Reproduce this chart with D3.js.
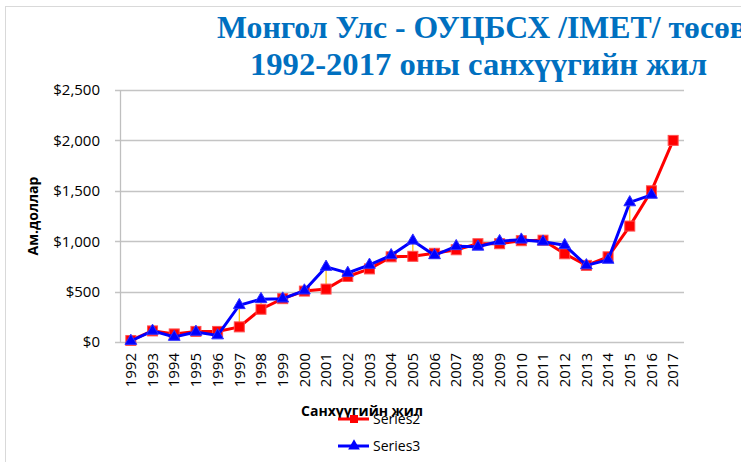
<!DOCTYPE html>
<html>
<head>
<meta charset="utf-8">
<script src="https://cdn.jsdelivr.net/npm/d3@7"></script>
<style>
  body { margin: 0; background: #fff; }
  svg { display: block; }
</style>
</head>
<body>
<script>
// data
const years = ['1992','1993','1994','1995','1996','1997','1998','1999','2000','2001','2002','2003','2004',
               '2005','2006','2007','2008','2009','2010','2011','2012','2013','2014','2015','2016','2017'];
const series2 = [15, 110, 80, 105, 105, 150, 325, 430, 505, 525, 650, 725, 845,
                 850, 880, 915, 975, 975, 1005, 1010, 875, 760, 845, 1150, 1500, 2000];
const series3 = [10, 110, 50, 100, 65, 365, 425, 430, 510, 745, 685, 765, 860,
                 1005, 860, 950, 945, 1000, 1015, 995, 960, 760, 815, 1385, 1460, null];
const yTicks = [0, 500, 1000, 1500, 2000, 2500];
const titleLines = ['Монгол Улс - ОУЦБСХ /IMET/ төсөв', '1992-2017 оны санхүүгийн жил'];

const W = 741, H = 462;
const plot = { left: 120, right: 684, top: 90, bottom: 342 };

const svg = d3.select('body').append('svg')
    .attr('width', W)
    .attr('height', H);

// chart frame
svg.append('rect')
    .attr('x', 5.5).attr('y', 6.5)
    .attr('width', 800).attr('height', 600)
    .attr('fill', '#fff')
    .attr('stroke', '#d9d9d9');

// TITLE
const titleFmt = [
    { x: 217, y: 38, len: 530 },
    { x: 250, y: 75, len: 457 }
];
svg.selectAll('text.title')
    .data(titleLines)
    .enter()
    .append('text')
    .attr('class', 'title')
    .attr('x', (d, i) => titleFmt[i].x)
    .attr('y', (d, i) => titleFmt[i].y)
    .attr('textLength', (d, i) => titleFmt[i].len)
    .attr('lengthAdjust', 'spacingAndGlyphs')
    .attr('font-family', '"Liberation Serif", "Times New Roman", serif')
    .attr('font-weight', 'bold')
    .attr('font-size', '31px')
    .attr('fill', '#0070c0')
    .text(d => d);

// SCALES
const x = d3.scaleBand()
    .domain(years)
    .range([plot.left, plot.right]);

const y = d3.scaleLinear()
    .domain([0, 2500])
    .range([plot.bottom, plot.top]);

const cx = d => x(d) + x.bandwidth() / 2;

// GRID
svg.append('g')
    .selectAll('line')
    .data(yTicks)
    .enter()
    .append('line')
    .attr('x1', plot.left - 5)
    .attr('x2', plot.right)
    .attr('y1', d => Math.round(y(d)) + 0.5)
    .attr('y2', d => Math.round(y(d)) + 0.5)
    .attr('stroke', '#c4c4c4')
    .attr('stroke-width', 1.3);

// AXES
const yAxis = d3.axisLeft(y)
    .tickValues(yTicks)
    .tickSize(0)
    .tickPadding(20)
    .tickFormat(d => '$' + d3.format(',')(d));

const gy = svg.append('g')
    .attr('transform', 'translate(' + plot.left + ',0)')
    .call(yAxis);
gy.select('.domain').attr('stroke', '#bfbfbf').attr('stroke-width', 1.3);
gy.selectAll('text')
    .attr('font-family', '"Open Sans", sans-serif')
    .attr('font-size', '15px')
    .attr('fill', '#000');

const xAxis = d3.axisBottom(x).tickSize(0).tickPadding(0);
const gx = svg.append('g')
    .attr('transform', 'translate(0,' + plot.bottom + ')')
    .call(xAxis);
gx.select('.domain').remove();
gx.selectAll('text')
    .attr('font-family', '"Open Sans", sans-serif')
    .attr('font-size', '15px')
    .attr('fill', '#000')
    .style('text-anchor', 'end')
    .attr('dy', '0.35em')
    .attr('dx', '-11px')
    .attr('y', 0)
    .attr('transform', 'rotate(-90)');

// AXIS TITLES
svg.append('text')
    .attr('transform', 'translate(38,216) rotate(-90)')
    .attr('text-anchor', 'middle')
    .attr('font-family', '"Open Sans", sans-serif')
    .attr('font-weight', 'bold')
    .attr('font-size', '14px')
    .text('Ам.доллар');

svg.append('text')
    .attr('x', 362)
    .attr('y', 416)
    .attr('text-anchor', 'middle')
    .attr('font-family', '"Open Sans", sans-serif')
    .attr('font-weight', 'bold')
    .attr('font-size', '14px')
    .text('Санхүүгийн жил');

// HIGH-LOW LINES
const pairs = years.map((yr, i) => ({ yr, a: series2[i], b: series3[i] }))
    .filter(d => d.a != null && d.b != null);
svg.append('g')
    .selectAll('line')
    .data(pairs)
    .enter()
    .append('line')
    .attr('x1', d => cx(d.yr))
    .attr('x2', d => cx(d.yr))
    .attr('y1', d => y(d.a))
    .attr('y2', d => y(d.b))
    .attr('stroke', '#ffc000')
    .attr('stroke-width', 1.2);

// SERIES
const line = d3.line()
    .defined(d => d.v != null)
    .x(d => cx(d.yr))
    .y(d => y(d.v));

const s2 = years.map((yr, i) => ({ yr, v: series2[i] }));
const s3 = years.map((yr, i) => ({ yr, v: series3[i] })).filter(d => d.v != null);

svg.append('path')
    .datum(s2)
    .attr('d', line)
    .attr('fill', 'none')
    .attr('stroke', '#ff0000')
    .attr('stroke-width', 3);

svg.append('g')
    .selectAll('rect')
    .data(s2)
    .enter()
    .append('rect')
    .attr('x', d => cx(d.yr) - 5)
    .attr('y', d => y(d.v) - 5)
    .attr('width', 10)
    .attr('height', 10)
    .attr('fill', '#ff0000')
    .attr('stroke', '#ff5050')
    .attr('stroke-width', 1);

svg.append('path')
    .datum(s3)
    .attr('d', line)
    .attr('fill', 'none')
    .attr('stroke', '#0000ff')
    .attr('stroke-width', 3);

const tri = d3.symbol().type(d3.symbolTriangle).size(60);
svg.append('g')
    .selectAll('path')
    .data(s3)
    .enter()
    .append('path')
    .attr('d', tri)
    .attr('transform', d => 'translate(' + cx(d.yr) + ',' + y(d.v) + ')')
    .attr('fill', '#0000ff')
    .attr('stroke', '#3030ff')
    .attr('stroke-width', 1);

// LEGEND
const legend = [
    { name: 'Series2', color: '#ff0000', shape: 'square', y: 419 },
    { name: 'Series3', color: '#0000ff', shape: 'triangle', y: 446 }
];
const lg = svg.append('g')
    .selectAll('g')
    .data(legend)
    .enter()
    .append('g')
    .attr('transform', d => 'translate(338,' + d.y + ')');

lg.append('line')
    .attr('x1', 0).attr('x2', 31)
    .attr('stroke', d => d.color)
    .attr('stroke-width', 3);

lg.append('path')
    .attr('d', d => d.shape === 'square'
        ? d3.symbol().type(d3.symbolSquare).size(64)()
        : tri())
    .attr('transform', 'translate(16,0)')
    .attr('fill', d => d.color);

lg.append('text')
    .attr('x', 35)
    .attr('y', 5)
    .attr('font-family', '"Open Sans", sans-serif')
    .attr('font-size', '14px')
    .attr('fill', '#000')
    .text(d => d.name);
</script>
</body>
</html>
